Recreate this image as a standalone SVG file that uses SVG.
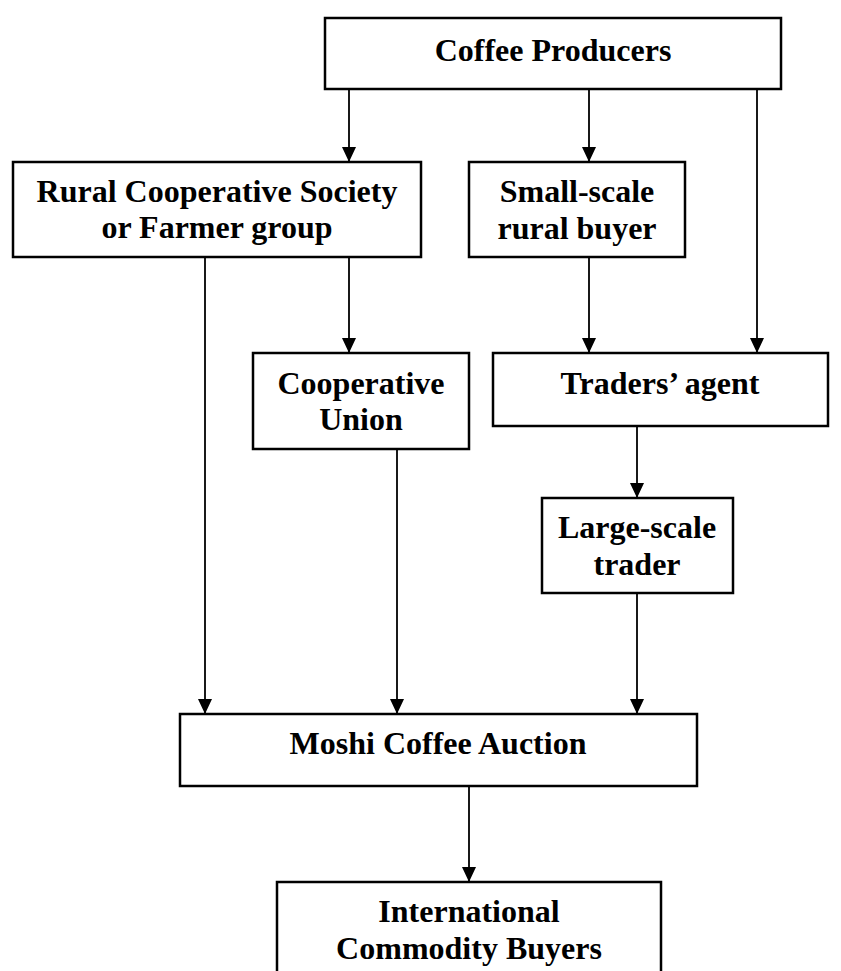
<svg xmlns="http://www.w3.org/2000/svg" width="841" height="971" viewBox="0 0 841 971">
<style>
.box{fill:#fff;stroke:#000;stroke-width:2.5}
.t{font-family:"Liberation Serif","Times New Roman",serif;font-weight:bold;font-size:32px;text-anchor:middle;fill:#000}
.c{stroke:#000;stroke-width:1.8;fill:none}
</style>
<defs>
<marker id="arr" markerUnits="userSpaceOnUse" markerWidth="16" markerHeight="16" viewBox="-8 -15 16 16" refX="0" refY="0" orient="0">
<path d="M-7,-15 L7,-15 L0,0 Z" fill="#000"/>
</marker>
</defs>
<g id="connectors">
<line class="c" x1="349" y1="89" x2="349" y2="162" marker-end="url(#arr)"/>
<line class="c" x1="589" y1="89" x2="589" y2="162" marker-end="url(#arr)"/>
<line class="c" x1="757" y1="89" x2="757" y2="353" marker-end="url(#arr)"/>
<line class="c" x1="205" y1="257" x2="205" y2="714" marker-end="url(#arr)"/>
<line class="c" x1="349" y1="257" x2="349" y2="353" marker-end="url(#arr)"/>
<line class="c" x1="589" y1="257" x2="589" y2="353" marker-end="url(#arr)"/>
<line class="c" x1="397" y1="449" x2="397" y2="714" marker-end="url(#arr)"/>
<line class="c" x1="637" y1="426" x2="637" y2="498" marker-end="url(#arr)"/>
<line class="c" x1="637" y1="593" x2="637" y2="714" marker-end="url(#arr)"/>
<line class="c" x1="469" y1="786" x2="469" y2="882" marker-end="url(#arr)"/>
</g>
<g id="coffee-producers">
<rect class="box" x="325" y="18" width="456" height="71"/>
<text class="t" x="553" y="61">Coffee Producers</text>
</g>
<g id="rural-cooperative">
<rect class="box" x="13" y="162" width="408" height="95"/>
<text class="t" x="217" y="202">Rural Cooperative Society</text>
<text class="t" x="217" y="238">or Farmer group</text>
</g>
<g id="small-scale-buyer">
<rect class="box" x="469" y="162" width="216" height="95"/>
<text class="t" x="577" y="202">Small-scale</text>
<text class="t" x="577" y="239">rural buyer</text>
</g>
<g id="cooperative-union">
<rect class="box" x="253" y="353" width="216" height="96"/>
<text class="t" x="361" y="394">Cooperative</text>
<text class="t" x="361" y="430">Union</text>
</g>
<g id="traders-agent">
<rect class="box" x="493" y="353" width="335" height="73"/>
<text class="t" x="660" y="394">Traders’ agent</text>
</g>
<g id="large-scale-trader">
<rect class="box" x="542" y="498" width="191" height="95"/>
<text class="t" x="637" y="538">Large-scale</text>
<text class="t" x="637" y="575">trader</text>
</g>
<g id="moshi-auction">
<rect class="box" x="180" y="714" width="517" height="72"/>
<text class="t" x="438" y="754">Moshi Coffee Auction</text>
</g>
<g id="international-buyers">
<rect class="box" x="277" y="882" width="384" height="110"/>
<text class="t" x="469" y="922">International</text>
<text class="t" x="469" y="959">Commodity Buyers</text>
</g>
</svg>
